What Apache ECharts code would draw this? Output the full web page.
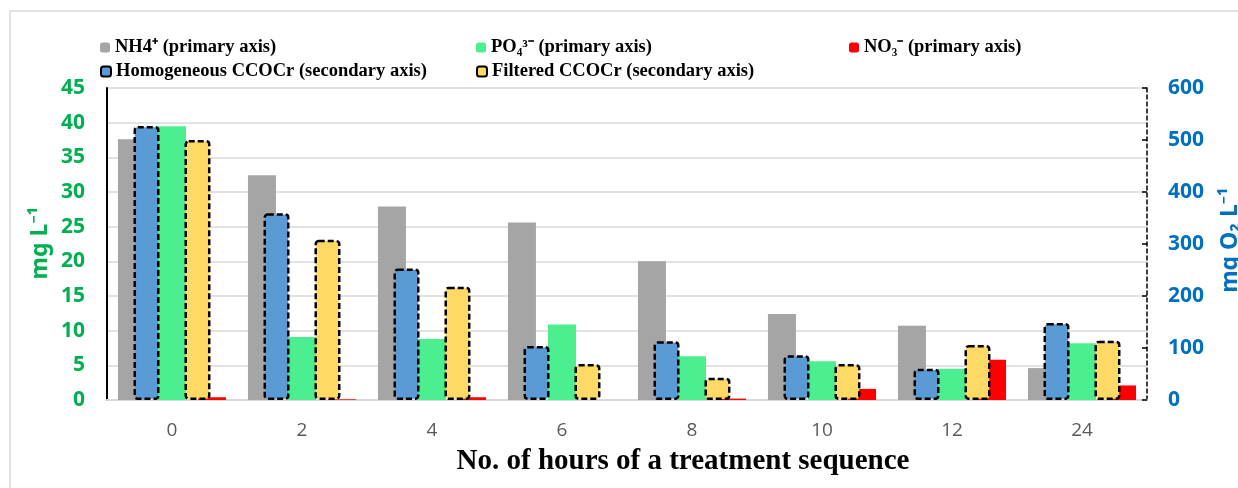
<!DOCTYPE html>
<html><head><meta charset="utf-8">
<script src="https://cdn.jsdelivr.net/npm/echarts@6/dist/echarts.min.js"></script>
<style>html,body{margin:0;padding:0;background:#fff}#c{width:1238px;height:488px}</style>
</head><body><div id="c"></div>
<script>
const categories = ['0','2','4','6','8','10','12','24'];
const nh4 = [37.6, 32.4, 27.9, 25.6, 20.0, 12.4, 10.7, 4.6];
const po4 = [39.5, 9.1, 8.8, 10.9, 6.3, 5.6, 4.5, 8.2];
const no3 = [0.4, 0.1, 0.4, 0, 0.2, 1.6, 5.8, 2.1];
const homogeneous = [527, 359, 253, 104, 113, 86, 60, 148];
const filtered = [500, 308, 218, 69, 43, 69, 106, 114];
const leftTicks = [0, 45, 5];
const rightTicks = [0, 600, 100];

const names = ['NH4\u207A (primary axis)', 'PO\u2084\u00B3\u207B (primary axis)', 'NO\u2083\u207B (primary axis)',
  'Homogeneous CCOCr (secondary axis)', 'Filtered CCOCr (secondary axis)'];

const chart = echarts.init(document.getElementById('c'));
const legTxt = {fontFamily: 'Liberation Serif', fontWeight: 'bold', fontSize: 18.5, color: '#000'};
function leg(name, left, top) {
  return {data: [name], left: left, top: top, itemWidth: 10, itemHeight: 10, itemGap: 4,
    padding: 0, textStyle: legTxt, selectedMode: false};
}
const dashed = {borderColor: '#000', borderWidth: 2.5, borderType: [6, 3], borderRadius: 3};
chart.setOption({
  animation: false,
  grid: {left: 107, right: 91, top: 88, bottom: 88, containLabel: false},
  legend: [leg(names[0], 100, 38), leg(names[1], 476, 38), leg(names[2], 849, 38),
           leg(names[3], 100, 62), leg(names[4], 476, 62)],
  xAxis: [
    {type: 'category', data: categories,
     axisLine: {show: true, lineStyle: {color: '#d9d9d9', width: 2}},
     axisTick: {show: false},
     axisLabel: {color: '#595959', fontFamily: 'Open Sans', fontSize: 19, margin: 21}},
    {type: 'category', data: categories, show: false}
  ],
  yAxis: [
    {type: 'value', min: leftTicks[0], max: leftTicks[1], interval: leftTicks[2], position: 'left',
     axisLine: {show: true, lineStyle: {color: '#000', width: 2}},
     axisTick: {show: false},
     splitLine: {lineStyle: {color: '#d9d9d9', width: 1.5}},
     axisLabel: {color: '#00b050', fontFamily: 'Noto Sans', fontWeight: 'bold', fontSize: 21, margin: 22}},
    {type: 'value', min: rightTicks[0], max: rightTicks[1], interval: rightTicks[2], position: 'right',
     axisLine: {show: true, lineStyle: {color: '#000', width: 1.5, type: [4, 3]}},
     axisTick: {show: true, inside: true, length: 5, lineStyle: {color: '#000', width: 1.5}},
     splitLine: {show: false},
     axisLabel: {color: '#0070c0', fontFamily: 'Noto Sans', fontWeight: 'bold', fontSize: 21, margin: 21}}
  ],
  series: [
    {name: names[0], type: 'bar', xAxisIndex: 0, yAxisIndex: 0, data: nh4, barWidth: 28, barGap: '43%', z: 2,
     itemStyle: {color: '#a5a5a5'}},
    {name: names[1], type: 'bar', xAxisIndex: 0, yAxisIndex: 0, data: po4, barWidth: 28, barGap: '43%', z: 2,
     itemStyle: {color: '#4cef90'}},
    {name: names[2], type: 'bar', xAxisIndex: 0, yAxisIndex: 0, data: no3, barWidth: 28, barGap: '43%', z: 2,
     itemStyle: {color: '#ff0000'}},
    {name: names[3], type: 'bar', xAxisIndex: 1, yAxisIndex: 1, data: homogeneous, barWidth: 26, barGap: '96%', z: 3,
     itemStyle: Object.assign({color: '#5b9bd5'}, dashed)},
    {name: names[4], type: 'bar', xAxisIndex: 1, yAxisIndex: 1, data: filtered, barWidth: 26, barGap: '96%', z: 3,
     itemStyle: Object.assign({color: '#ffd966'}, dashed)}
  ],
  graphic: [
    {type: 'rect', shape: {x: 10, y: 11, width: 1300, height: 600}, z: -1,
     style: {fill: 'none', stroke: '#d9d9d9', lineWidth: 1.5}},
    {type: 'text', x: 683, y: 462, style: {text: 'No. of hours of a treatment sequence', textAlign: 'center',
     textVerticalAlign: 'middle', font: 'bold 29px "Liberation Serif"', fill: '#000'}},
    {type: 'text', x: 40, y: 243, rotation: Math.PI / 2, style: {text: 'mg L\u207B\u00B9', textAlign: 'center',
     textVerticalAlign: 'middle', font: 'bold 23px "Noto Sans"', fill: '#00b050'}},
    {type: 'text', x: 1230, y: 240, rotation: Math.PI / 2, style: {text: 'mg O\u2082 L\u207B\u00B9', textAlign: 'center',
     textVerticalAlign: 'middle', font: 'bold 23px "Noto Sans"', fill: '#0070c0'}}
  ]
});
</script></body></html>
